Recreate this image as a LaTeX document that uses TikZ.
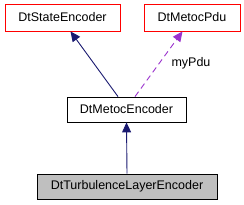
\documentclass[tikz,border=0pt]{standalone}
\usepackage{fontspec}
\setmainfont{Liberation Sans}
\usetikzlibrary{arrows.meta,calc}
\definecolor{edgeblue}{HTML}{191970}
\definecolor{edgepurple}{HTML}{9A32CD}
\definecolor{boxred}{HTML}{FF0000}
\definecolor{boxgray}{HTML}{BFBFBF}
\tikzset{
  cls/.style={draw=black, line width=0.8pt, minimum height=#1, inner sep=0pt, font=\fontsize{12.5}{14}\selectfont, anchor=center},
  cls/.default={25pt},
  ext/.style={draw=boxred},
  inh/.style={draw=edgeblue, line width=0.9pt, -{Triangle[length=10pt,width=9pt]}},
  use/.style={draw=edgepurple, line width=0.9pt, dash pattern=on 6pt off 4pt, -{Triangle[length=10pt,width=9pt]}},
}
\begin{document}
\begin{tikzpicture}[x=1pt,y=-1pt]
\useasboundingbox (0,0) rectangle (244,205);
\node[cls=27pt, ext, minimum width=115pt] (se) at (62.5,17.5) {DtStateEncoder};
\node[cls=27pt, ext, minimum width=96pt] (pdu) at (192,17.5) {DtMetocPdu};
\node[cls, minimum width=119pt] (me) at (126.5,109.5) {DtMetocEncoder};
\node[cls, fill=boxgray, minimum width=180pt] (tl) at (127,186.5) {DtTurbulenceLayerEncoder};
\draw[inh] ($(me.north)+(-8.5,0)$) -- ($(se.south)+(8,0)$);
\draw[use] ($(me.north)+(8.5,0)$) -- ($(pdu.south)+(-9.5,0)$);
\node[font=\fontsize{12.5}{14}\selectfont, anchor=west] (lbl) at (168,63) {myPdu};
\draw[inh] (tl.north) -- (me.south);
\end{tikzpicture}
\end{document}
